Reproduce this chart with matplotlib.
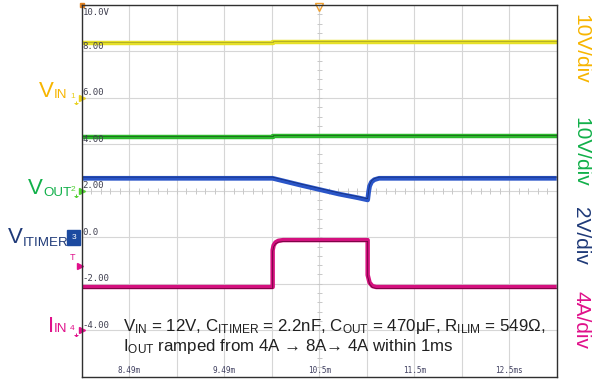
import matplotlib
matplotlib.use("Agg")
import matplotlib.pyplot as plt
from matplotlib.path import Path
import numpy as np

plt.rcParams['font.family'] = ['Liberation Sans', 'DejaVu Sans']
plt.rcParams['mathtext.default'] = 'regular'

# time in ms, values in screen units (2 units = 1 div)
t_vin = [7.99, 10.0, 10.0, 12.99]
vin = [8.36, 8.36, 8.41, 8.41]

t_vout = [7.99, 10.0, 10.0, 12.99]
vout = [4.32, 4.32, 4.35, 4.35]

t_timer = [7.99, 10.0, 10.1, 10.3, 10.5, 10.7, 10.9, 11.0, 11.01, 11.02, 11.04, 11.07, 11.12, 12.99]
timer = [2.54, 2.54, 2.44, 2.24, 2.05, 1.86, 1.70, 1.61, 1.95, 2.20, 2.38, 2.48, 2.54, 2.54]

t_iin = [7.99, 10.0, 10.0, 10.01, 10.03, 10.06, 10.11, 11.0, 11.0, 11.02, 11.05, 11.09, 12.99]
iin = [-2.14, -2.14, -0.55, -0.35, -0.22, -0.15, -0.12, -0.12, -1.62, -1.95, -2.10, -2.14, -2.14]

ylabels = ["10.0V", "8.00", "6.00", "4.00", "2.00", "0.0", "-2.00", "-4.00"]
ylab_pos = [10, 8, 6, 4, 2, 0, -2, -4]
xlabels = ["8.49m", "9.49m", "10.5m", "11.5m", "12.5ms"]
xlab_pos = [8.49, 9.49, 10.49, 11.49, 12.49]

c_yel_trace = "#e6e028"
c_grn_trace = "#2cb82c"
c_blu_trace = "#2a55c8"
c_mag_trace = "#d4107e"
c_yel = "#f7b500"
c_grn = "#12b04a"
c_blu = "#1f3a78"
c_mag = "#e0108a"

fig = plt.figure(figsize=(5.92, 3.81), dpi=100)
ax = fig.add_axes([0.138, 0.0113, 0.8024, 0.9756])
ax.set_xlim(7.99, 12.99)
ax.set_ylim(-6, 10)
ax.set_xticks(np.arange(7.99, 13.0, 0.5))
ax.set_yticks(np.arange(-6, 10.1, 2))
ax.grid(True, color="#d6d6d6", lw=0.8)
ax.tick_params(length=0, labelbottom=False, labelleft=False)
for s in ax.spines.values():
    s.set_color("#303030")
    s.set_linewidth(1.0)

# minor ticks on the centre lines
mx = np.arange(7.99, 12.99, 0.1)
ax.vlines(mx, 2 - 0.12, 2 + 0.12, color="#c8c8c8", lw=0.7)
my = np.arange(-6, 10, 0.4)
ax.hlines(my, 10.49 - 0.025, 10.49 + 0.025, color="#c8c8c8", lw=0.7)

# traces
ax.plot(t_vin, vin, color=c_yel_trace, lw=3.2, solid_capstyle="butt")
ax.plot(t_vin, np.array(vin) + 0.06, color="#555520", lw=0.4, alpha=0.6)
ax.plot(t_vout, vout, color=c_grn_trace, lw=3.2, solid_capstyle="butt")
ax.plot(t_vout, np.array(vout) + 0.06, color="#103010", lw=0.5, alpha=0.7)
ax.plot(t_timer, timer, color=c_blu_trace, lw=3.4, solid_capstyle="butt")
ax.plot(t_timer, np.array(timer) + 0.05, color="#0a1a50", lw=0.5, alpha=0.7)
ax.plot(t_iin, iin, color=c_mag_trace, lw=3.2, solid_capstyle="butt")
ax.plot(t_iin, np.array(iin) - 0.06, color="#400020", lw=0.6, alpha=0.7)

# in-screen scale labels
for lab, v in zip(ylabels, ylab_pos):
    if v == 10:
        ax.text(8.0, v - 0.15, lab, fontsize=6.5, family="DejaVu Sans Mono",
                color="#404050", va="top", ha="left")
    else:
        ax.text(8.0, v + 0.02, lab, fontsize=6.5, family="DejaVu Sans Mono",
                color="#404050", va="bottom", ha="left")
for lab, x in zip(xlabels, xlab_pos):
    ax.text(x, -5.93, lab, fontsize=5.5, family="DejaVu Sans Mono",
            color="#404060", va="bottom", ha="center")

# trigger marker on top
ax.plot([10.49], [9.9], marker="v", ms=6, mfc="none", mec="#f0a030", mew=1, clip_on=False)
ax.plot([7.99], [10], marker="s", ms=2.5, color="#e08020", clip_on=False)

# annotation
ax.text(0.087, 0.134, r"$V_{IN}$ = 12V, $C_{ITIMER}$ = 2.2nF, $C_{OUT}$ = 470μF, $R_{ILIM}$ = 549Ω,",
        transform=ax.transAxes, fontsize=12.2, color="#202020", va="center", ha="left")
ax.text(0.087, 0.080, r"$I_{OUT}$ ramped from 4A → 8A→ 4A within 1ms",
        transform=ax.transAxes, fontsize=12.2, color="#202020", va="center", ha="left")

# channel names on the left: main letter + smaller subscript
names = [("V", "IN", 0.0912, 0.7462, 0.7415, c_yel),
         ("V", "OUT", 0.0726, 0.4900, 0.4856, c_grn),
         ("V", "ITIMER", 0.0389, 0.3614, 0.3551, c_blu),
         ("I", "IN", 0.0912, 0.1294, 0.1273, c_mag)]
for main, sub, xs, yb, ys, col in names:
    fig.text(xs, yb, main, fontsize=16, color=col, ha="right", va="baseline")
    fig.text(xs, ys, sub, fontsize=9.6, color=col, ha="left", va="baseline")

# ground symbol as a marker shape
gnd = Path([(0, 0), (0, -1), (-1, -1), (1, -1), (-0.6, -1.5), (0.6, -1.5), (-0.25, -2), (0.25, -2)],
           [Path.MOVETO, Path.LINETO, Path.MOVETO, Path.LINETO, Path.MOVETO, Path.LINETO,
            Path.MOVETO, Path.LINETO])

# channel ground markers
for num, v, col in [("1", 6, "#e8d020"), ("2", 2, "#50d030"), ("4", -4, c_mag)]:
    ax.plot([7.99], [v], marker=">", ms=4, color=col, clip_on=False)
    ax.annotate(num, (7.99, v), xytext=(-5, 1), textcoords="offset points",
                fontsize=6, color=col, ha="right", va="center")
    ax.plot([7.99 - 0.055], [v - 0.12], marker=gnd, ms=5, mew=0.7, color=col,
            mfc="none", clip_on=False)
ax.annotate("3", (7.99, 0), xytext=(-4, 0), textcoords="offset points",
            fontsize=6, color="white", ha="right", va="center",
            bbox=dict(boxstyle="square,pad=0.5", fc="#1c4aa0", ec="#1c4aa0"))
ax.annotate("T", (7.99, -0.85), xytext=(-5, 0), textcoords="offset points",
            fontsize=6.5, color=c_mag, ha="right", va="center")
ax.plot([7.99 - 0.02], [-1.25], marker=">", ms=4, color=c_mag, clip_on=False)

# volts per div on the right
fig.text(0.981, 0.871, "10V/div", fontsize=15, color=c_yel, rotation=270, ha="center", va="center")
fig.text(0.981, 0.601, "10V/div", fontsize=15, color=c_grn, rotation=270, ha="center", va="center")
fig.text(0.981, 0.381, "2V/div", fontsize=15, color=c_blu, rotation=270, ha="center", va="center")
fig.text(0.981, 0.160, "4A/div", fontsize=15, color=c_mag, rotation=270, ha="center", va="center")

fig.savefig("out.png", dpi=100)
